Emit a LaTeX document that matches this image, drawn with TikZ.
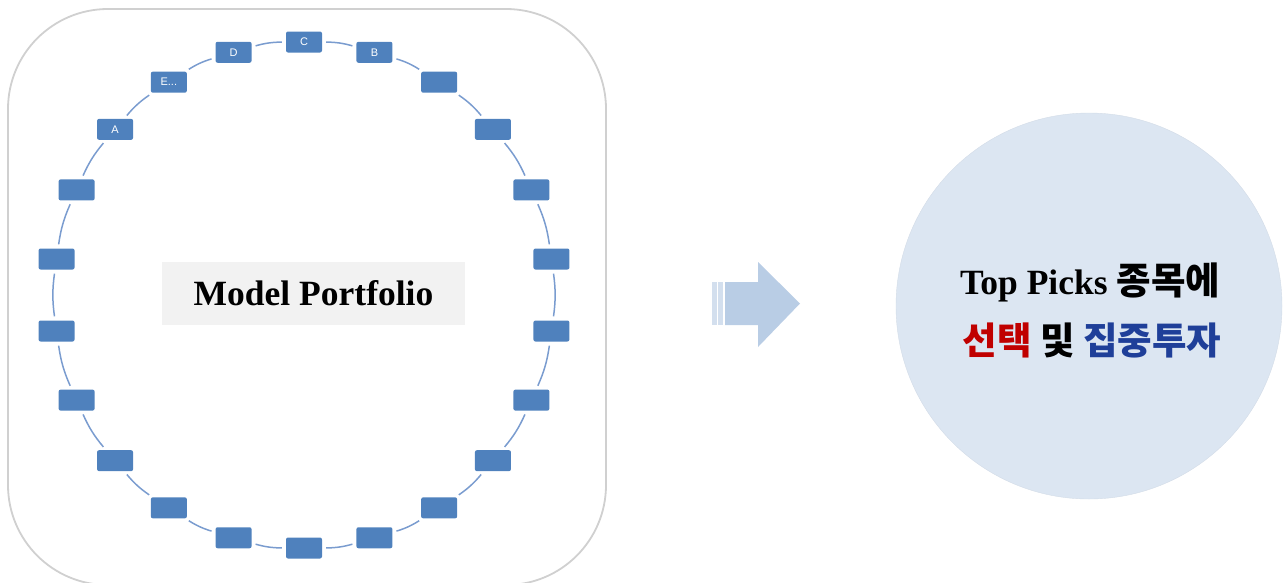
\documentclass[tikz,border=0pt]{standalone}
\usepackage{fontspec}
\setmainfont{Liberation Serif}
\newfontfamily\korfont{Noto Sans CJK KR}
\newfontfamily\boxfont{Liberation Sans}
\usepackage{xcolor}
\definecolor{mpBlue}{HTML}{4F81BD}
\definecolor{mpRing}{HTML}{7A9CCF}
\definecolor{mpFrame}{HTML}{D0D0D0}
\definecolor{mpGray}{HTML}{F2F2F2}
\definecolor{mpArrow}{HTML}{B9CDE5}
\definecolor{mpArrowLight}{HTML}{D3DFEE}
\definecolor{mpTarget}{HTML}{DCE6F2}
\definecolor{mpRed}{HTML}{C00000}
\definecolor{mpNavy}{HTML}{1F3F99}
\usepackage{tikz}
\usetikzlibrary{positioning}
\tikzset{stock/.style={fill=mpBlue, rounded corners=2pt, minimum width=36pt, minimum height=21pt, inner sep=0pt, text=white, font=\boxfont\fontsize{11}{11}\selectfont}}
\tikzset{ring/.style={draw=mpRing, line width=1.5pt, shorten >=4pt, shorten <=4pt}}
\tikzset{headline/.style={font=\fontsize{35.5}{36}\selectfont\bfseries, inner sep=0pt}}
\newcommand{\kor}[1]{{\korfont\fontsize{37.5}{38}\selectfont #1}}

\begin{document}
\begin{tikzpicture}[x=1pt,y=-1pt]
\useasboundingbox (0,0) rectangle (1287,582);
\draw[mpFrame, line width=1.8pt, rounded corners=100pt] (8,9) rectangle (606,585);
% stocks on the ring
\foreach \i/\t in {0/C,1/B,2/{},3/{},4/{},5/{},6/{},7/{},8/{},9/{},10/{},11/{},12/{},13/{},14/{},15/{},16/{},17/{},18/{},19/A,20/{E...},21/D}
  \node[stock](s\i) at ({304+250*cos(90-\i*360/22)},{295-253*sin(90-\i*360/22)}){\t};
\foreach \i [evaluate=\i as \j using {int(mod(\i+1,22))}] in {0,...,21}
  \draw[ring](s\i) to[bend left=8] (s\j);
\node[fill=mpGray, minimum width=303pt, minimum height=63pt, headline](mp) at (313.5,293.5){Model Portfolio};
% arrow
\fill[mpArrowLight] (712,282) rectangle (717,325);
\fill[mpArrowLight] (718,282) rectangle (723,325);
\fill[mpArrow] (725,282) -- (758,282) -- (758,262) -- (800,303.5) -- (758,347) -- (758,325) -- (725,325) -- cycle;
% target
\node[circle, fill=mpTarget, draw=mpTarget!90!gray, minimum size=386pt, inner sep=0pt](target) at (1089,306){};
\node[headline](picks) at ([yshift=24pt,xshift=1pt]target.center){Top Picks \kor{종목에}};
\node[headline](invest) at ([yshift=-34pt,xshift=3pt]target.center){\kor{{\color{mpRed}선택} 및 {\color{mpNavy}집중투자}}};
\end{tikzpicture}
\end{document}
